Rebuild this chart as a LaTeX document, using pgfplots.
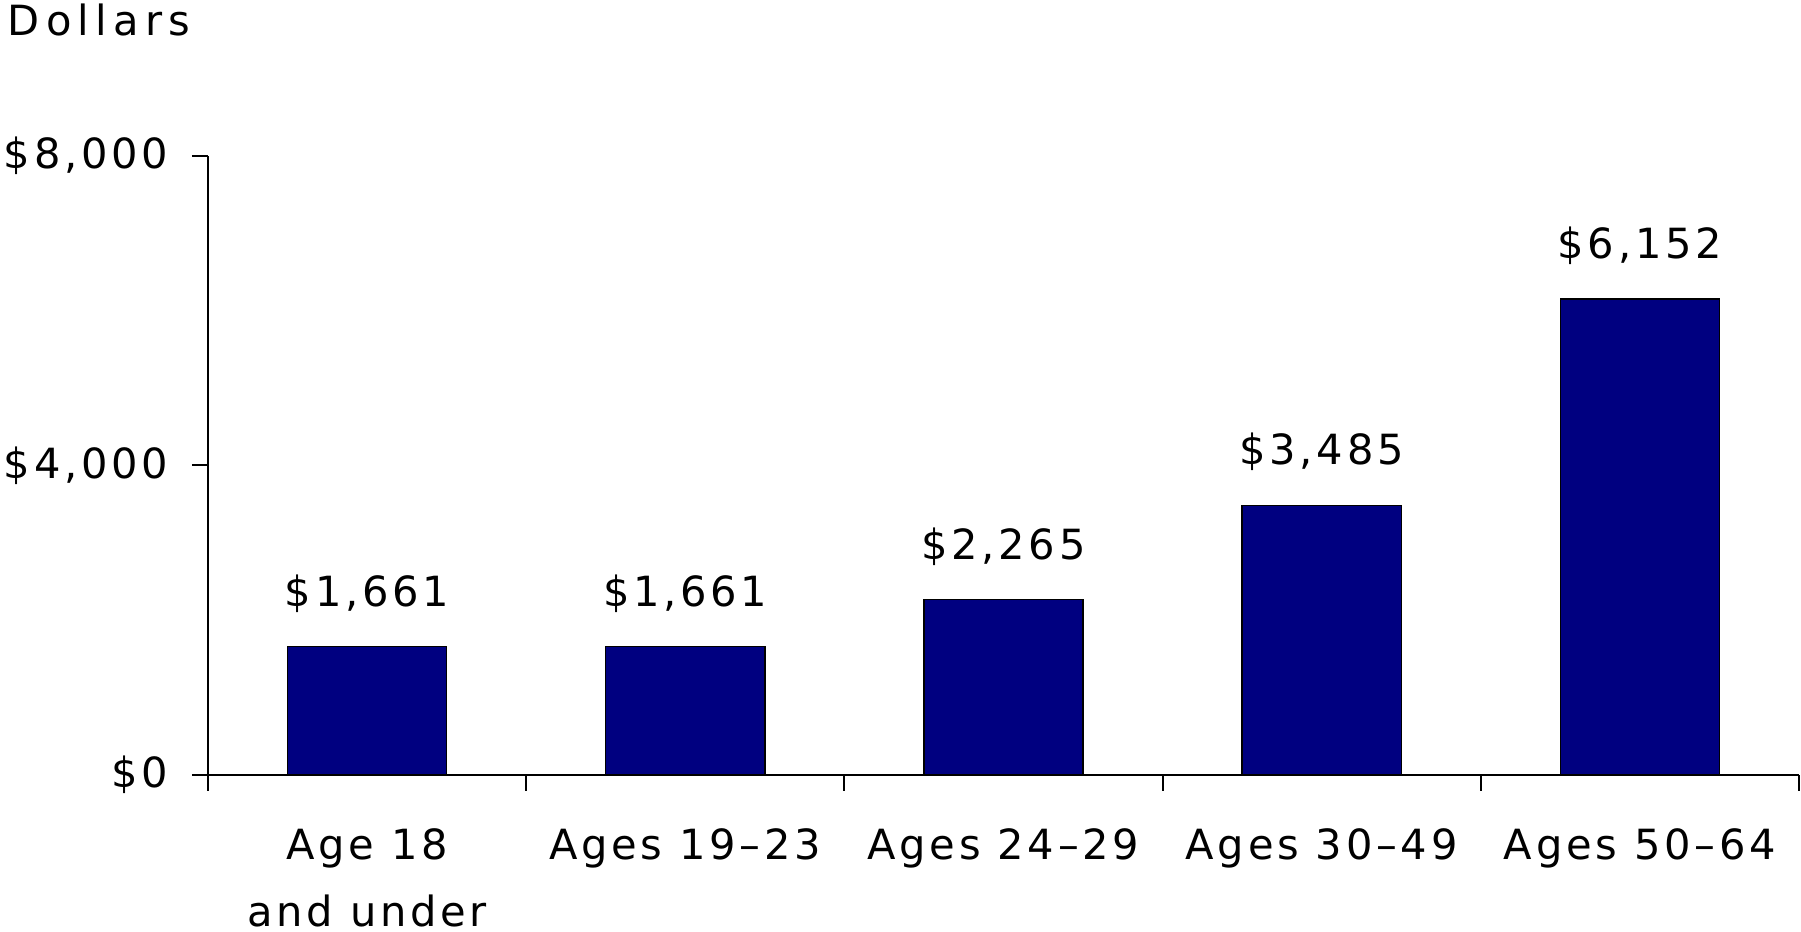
\documentclass[border=0pt]{standalone}
\usepackage{fontspec}
\setmainfont{DejaVu Sans}[LetterSpace=9]
\usepackage{pgfplots}
\pgfplotsset{compat=1.18}
\definecolor{barnavy}{HTML}{000080}
\begin{document}
\begin{tikzpicture}[font=\fontsize{10.4}{16.75}\selectfont]
\useasboundingbox (-52pt,-39.25pt) rectangle (398.25pt,193.75pt);
\begin{axis}[
  at={(0,0)}, anchor=south west,
  scale only axis, width=397.75pt, height=154.75pt,
  xmin=-0.5, xmax=4.5, ymin=0, ymax=8000,
  axis x line=bottom, axis y line=left,
  axis line style={-, line width=0.5pt},
  tick align=outside,
  xtick={0,1,2,3,4},
  xticklabels={{Age 18\\and under},{Ages 19–23},{Ages 24–29},{Ages 30–49},{Ages 50–64}},
  minor xtick={-0.5,0.5,1.5,2.5,3.5,4.5},
  major x tick style={draw=none},
  minor tick length=4pt, major tick length=4pt,
  every tick/.style={black, line width=0.5pt},
  ytick={0,4000,8000},
  yticklabels={{\$0},{\$4,000},{\$8,000}},
  xticklabel style={align=center, anchor=north, inner sep=0pt, yshift=-9.2pt, font=\fontsize{10.4}{16.75}\selectfont},
  yticklabel style={anchor=east, inner sep=0pt, xshift=-5.75pt},
  /pgf/number format/.cd, 1000 sep={,}, assume math mode=true, /pgfplots/.cd,
  nodes near coords={\$\pgfmathprintnumber{\pgfplotspointmeta}},
  nodes near coords style={anchor=base, inner sep=0pt, yshift=10.1pt, black},
  clip=false,
]
\addplot[ybar, bar width=39.775pt, fill=barnavy, draw=black, line width=0.35pt]
  coordinates {(0,1661) (1,1661) (2,2265) (3,3485) (4,6152)};
\end{axis}
\node[anchor=base west, inner sep=0pt] at (-50.25pt,184.75pt) {\addfontfeature{LetterSpace=15}Dollars};
\end{tikzpicture}
\end{document}
